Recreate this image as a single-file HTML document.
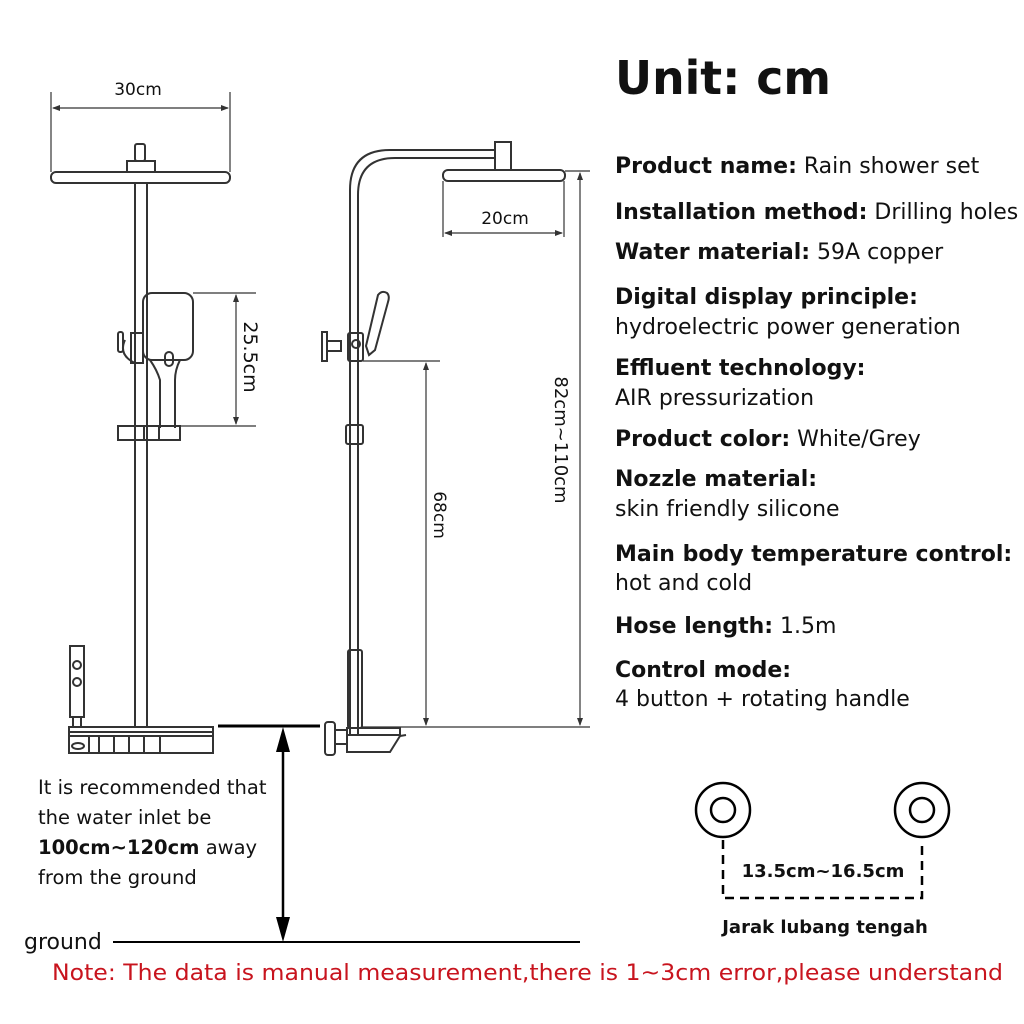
<!DOCTYPE html>
<html><head><meta charset="utf-8"><style>
html,body{margin:0;padding:0;background:#fff}
svg{display:block}
text{font-family:"DejaVu Sans","Liberation Sans",sans-serif;fill:#111}
.b{font-weight:bold}
</style></head><body>
<svg width="1024" height="1024" viewBox="0 0 1024 1024" xmlns="http://www.w3.org/2000/svg">
<defs>
<marker id="a" markerWidth="8" markerHeight="8" refX="7" refY="4" orient="auto-start-reverse" markerUnits="userSpaceOnUse"><path d="M0,1 L8,4 L0,7 Z" fill="#333"/></marker>
</defs>
<g fill="none" stroke="#333" stroke-width="2">
<line x1="51" y1="92" x2="51" y2="172" stroke-width="1.2"/>
<line x1="230" y1="92" x2="230" y2="172" stroke-width="1.2"/>
<line x1="53" y1="108" x2="228" y2="108" stroke-width="1.2" marker-start="url(#a)" marker-end="url(#a)"/>
<rect x="51" y="172" width="179" height="11" rx="5"/>
<rect x="127" y="161" width="28" height="11"/>
<rect x="135" y="144" width="10" height="17" rx="2"/>
<line x1="135" y1="183" x2="135" y2="728"/>
<line x1="147" y1="183" x2="147" y2="728"/>
<rect x="143" y="293" width="50" height="67" rx="9"/>
<path d="M150,360 Q157,370 160,380 L160,428 M180,360 Q175,370 175,380 L175,428"/>
<rect x="165" y="352" width="8" height="14" rx="4"/>
<rect x="131" y="333" width="12" height="30"/>
<path d="M125,340 Q118,355 135,363"/>
<rect x="118" y="332" width="5" height="20" rx="2"/>
<rect x="118" y="426" width="62" height="14"/>
<line x1="144" y1="426" x2="144" y2="440"/><line x1="159" y1="426" x2="159" y2="440"/>
<g stroke-width="1.2">
<line x1="193" y1="293" x2="256" y2="293"/>
<line x1="180" y1="426" x2="256" y2="426"/>
<line x1="236" y1="295" x2="236" y2="424" marker-start="url(#a)" marker-end="url(#a)"/>
</g>
<rect x="70" y="646" width="14" height="71"/>
<circle cx="77" cy="665" r="4"/><circle cx="77" cy="682" r="4"/>
<rect x="73" y="717" width="8" height="10"/>
<rect x="69" y="727" width="144" height="26"/>
<line x1="69" y1="732" x2="213" y2="732"/><line x1="69" y1="736" x2="213" y2="736"/>
<line x1="89" y1="736" x2="89" y2="753"/><line x1="99" y1="736" x2="99" y2="753"/><line x1="114" y1="736" x2="114" y2="753"/><line x1="129" y1="736" x2="129" y2="753"/><line x1="144" y1="736" x2="144" y2="753"/><line x1="160" y1="736" x2="160" y2="753"/>
<ellipse cx="78" cy="746" rx="6" ry="3"/>
<path d="M350,735 L350,190 Q350,150 390,150 L495,150"/>
<path d="M358,735 L358,195 Q358,158 395,158 L495,158"/>
<rect x="495" y="142" width="16" height="28"/>
<rect x="443" y="170" width="122" height="11" rx="5"/>
<g stroke-width="1.2">
<line x1="443" y1="181" x2="443" y2="237"/><line x1="564" y1="181" x2="564" y2="237"/>
<line x1="445" y1="233" x2="562" y2="233" marker-start="url(#a)" marker-end="url(#a)"/>
<line x1="565" y1="171" x2="590" y2="171"/>
<line x1="580" y1="173" x2="580" y2="725" marker-start="url(#a)" marker-end="url(#a)"/>
<line x1="363" y1="361" x2="440" y2="361"/>
<line x1="426" y1="363" x2="426" y2="725" marker-start="url(#a)" marker-end="url(#a)"/>
<line x1="362" y1="727" x2="590" y2="727"/>
</g>
<path d="M369,355 L366,346 L378,295 Q382,290 387,293 Q390,296 388,302 L375,350 Z"/>
<rect x="348" y="333" width="15" height="28" rx="2"/>
<circle cx="356" cy="344" r="4"/>
<rect x="322" y="332" width="5" height="29"/>
<rect x="327" y="341" width="14" height="10"/>
<rect x="346" y="425" width="17" height="19" rx="2"/>
<rect x="348" y="650" width="14" height="78" rx="2"/>
<rect x="325" y="722" width="10" height="33" rx="3"/>
<rect x="335" y="730" width="12" height="14"/>
<path d="M347,728 L400,728 L400,736 L390,752 L347,752 Z"/>
<line x1="347" y1="735" x2="400" y2="735"/>
<line x1="400" y1="736" x2="406" y2="735"/>
</g>
<line x1="218" y1="726" x2="320" y2="726" stroke="#000" stroke-width="3"/>
<line x1="283" y1="745" x2="283" y2="925" stroke="#000" stroke-width="2.5"/>
<path d="M276,752 L283,727 L290,752 Z M276,917 L283,942 L290,917 Z" fill="#000"/>
<line x1="113" y1="942" x2="580" y2="942" stroke="#000" stroke-width="2"/>
<text x="138" y="95" font-size="17" text-anchor="middle">30cm</text>
<text x="505" y="224" font-size="17" text-anchor="middle">20cm</text>
<text transform="translate(244,357) rotate(90)" font-size="19" text-anchor="middle">25.5cm</text>
<text transform="translate(434,515) rotate(90)" font-size="17" text-anchor="middle">68cm</text>
<text transform="translate(555,440) rotate(90)" font-size="18" text-anchor="middle">82cm~110cm</text>
<g font-size="19.5">
<text x="38" y="794">It is recommended that</text>
<text x="38" y="824">the water inlet be</text>
<text x="38" y="854"><tspan class="b">100cm~120cm</tspan> away</text>
<text x="38" y="884">from the ground</text>
</g>
<text x="24" y="949" font-size="22">ground</text>
<text x="615" y="94" font-size="46" class="b" textLength="216" lengthAdjust="spacingAndGlyphs">Unit: cm</text>
<g font-size="22">
<text x="615" y="173"><tspan class="b">Product name:</tspan> Rain shower set</text>
<text x="615" y="219"><tspan class="b">Installation method:</tspan> Drilling holes</text>
<text x="615" y="259"><tspan class="b">Water material:</tspan> 59A copper</text>
<text x="615" y="304" class="b">Digital display principle:</text>
<text x="615" y="334">hydroelectric power generation</text>
<text x="615" y="375" class="b">Effluent technology:</text>
<text x="615" y="405">AIR pressurization</text>
<text x="615" y="446"><tspan class="b">Product color:</tspan> White/Grey</text>
<text x="615" y="486" class="b">Nozzle material:</text>
<text x="615" y="516">skin friendly silicone</text>
<text x="615" y="561" class="b">Main body temperature control:</text>
<text x="615" y="590">hot and cold</text>
<text x="615" y="633"><tspan class="b">Hose length:</tspan> 1.5m</text>
<text x="615" y="677" class="b">Control mode:</text>
<text x="615" y="706">4 button + rotating handle</text>
</g>
<g fill="none" stroke="#000" stroke-width="2.5">
<circle cx="723" cy="810" r="27"/><circle cx="723" cy="810" r="12"/>
<circle cx="922" cy="810" r="27"/><circle cx="922" cy="810" r="12"/>
<path d="M723,840 L723,898 L922,898 L922,840" stroke-dasharray="9,6"/>
</g>
<text x="823" y="877" font-size="18" text-anchor="middle" style="font-weight:600">13.5cm~16.5cm</text>
<text x="825" y="933" font-size="18" text-anchor="middle" style="font-weight:600">Jarak lubang tengah</text>
<text x="52" y="980" font-size="22" style="fill:#c8141e" textLength="951" lengthAdjust="spacingAndGlyphs">Note: The data is manual measurement,there is 1~3cm error,please understand</text>
</svg>
</body></html>
